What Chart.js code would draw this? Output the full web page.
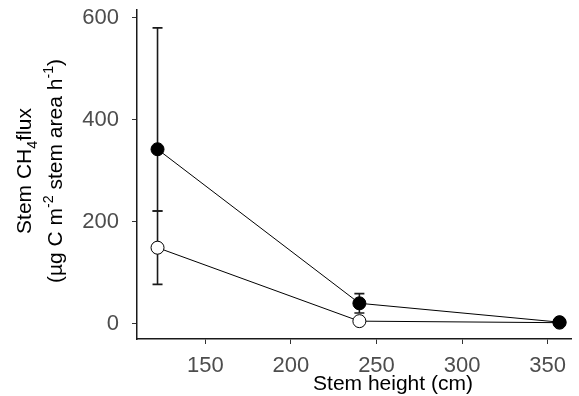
<!DOCTYPE html>
<html>
<head>
<meta charset="utf-8">
<script src="https://cdn.jsdelivr.net/npm/chart.js@4"></script>
<style>
  html, body { margin: 0; padding: 0; background: #fff; }
  #wrap { width: 579px; height: 396px; position: relative; }
</style>
</head>
<body>
<div id="wrap"><canvas id="grafico-flujo"></canvas></div>
<script>
// Datos
var alturas = [122, 240, 357];
var flujoLleno = [342, 40, 3];
var errorLlenoSup = [238, 19, 3];
var errorLlenoInf = [121, 19, 3];
var flujoVacio = [149, 5, 2];
var errorVacio = [72, 3, 1];
var ticksX = [150, 200, 250, 300, 350];
var ticksY = [0, 200, 400, 600];

var fuente = "'Liberation Sans', Arial, sans-serif";

function puntos(valores) {
  return alturas.map(function (x, i) { return { x: x, y: valores[i] }; });
}

// Barras de error dibujadas con las escalas del grafico
var barrasError = {
  id: "barrasError",
  beforeDatasetsDraw: function (chart) {
    var ctx = chart.ctx;
    var sx = chart.scales.x, sy = chart.scales.y;
    var series = [
      [flujoLleno, errorLlenoSup, errorLlenoInf],
      [flujoVacio, errorVacio, errorVacio],
    ];
    ctx.save();
    ctx.strokeStyle = "#1a1a1a";
    ctx.lineWidth = 1.6;
    series.forEach(function (s) {
      alturas.forEach(function (x, i) {
        var px = sx.getPixelForValue(x);
        var top = sy.getPixelForValue(s[0][i] + s[1][i]);
        var bot = sy.getPixelForValue(s[0][i] - s[2][i]);
        ctx.beginPath();
        ctx.moveTo(px, top); ctx.lineTo(px, bot);
        ctx.moveTo(px - 5, top); ctx.lineTo(px + 5, top);
        ctx.moveTo(px - 5, bot); ctx.lineTo(px + 5, bot);
        ctx.stroke();
      });
    });
    ctx.restore();
  }
};

// Texto con subindices y superindices, centrado en cx
function textoPartes(ctx, partes, cx, cy, size) {
  var total = 0;
  partes.forEach(function (p) {
    ctx.font = (p.s ? size * 0.68 : size) + "px " + fuente;
    p.w = ctx.measureText(p.t).width;
    total += p.w;
  });
  var x = cx - total / 2;
  partes.forEach(function (p) {
    ctx.font = (p.s ? size * 0.68 : size) + "px " + fuente;
    var dy = p.s === "sub" ? size * 0.3 : (p.s === "sup" ? -size * 0.45 : 0);
    ctx.fillText(p.t, x, cy + dy);
    x += p.w;
  });
}

var titulos = {
  id: "titulos",
  afterDraw: function (chart) {
    var ctx = chart.ctx;
    ctx.save();
    ctx.fillStyle = "#000";
    ctx.textBaseline = "alphabetic";
    ctx.textAlign = "left";
    textoPartes(ctx, [{ t: "Stem height (cm)" }], 393, 390, 21);
    ctx.translate(0, 171);
    ctx.rotate(-Math.PI / 2);
    textoPartes(ctx, [{ t: "Stem CH" }, { t: "4", s: "sub" }, { t: "flux" }], 0, 31, 21);
    textoPartes(ctx, [{ t: "(\u00b5g C m" }, { t: "-2", s: "sup" }, { t: " stem area h" }, { t: "-1", s: "sup" }, { t: ")" }], 0, 62, 21);
    ctx.restore();
  }
};

var ctx = document.getElementById("grafico-flujo").getContext("2d");
var miGrafico = new Chart(ctx, {
  type: "scatter",
  data: {
    datasets: [
      {
        data: puntos(flujoLleno),
        showLine: true,
        borderColor: "#000",
        borderWidth: 1,
        pointRadius: 6.5,
        pointBackgroundColor: "#000",
        pointBorderColor: "#000",
        pointBorderWidth: 1,
      },
      {
        data: puntos(flujoVacio),
        showLine: true,
        borderColor: "#000",
        borderWidth: 1,
        pointRadius: 6.5,
        pointBackgroundColor: "#fff",
        pointBorderColor: "#000",
        pointBorderWidth: 1,
      },
    ],
  },
  options: {
    responsive: true,
    maintainAspectRatio: false,
    animation: false,
    layout: { padding: { top: 10, right: 0, left: 0, bottom: 0 } },
    plugins: { legend: { display: false }, tooltip: { enabled: false } },
    scales: {
      x: {
        type: "linear",
        min: 110,
        max: 364,
        afterFit: function (s) { s.height = 57; },
        afterBuildTicks: function (s) { s.ticks = ticksX.map(function (v) { return { value: v }; }); },
        grid: { drawOnChartArea: false, color: "#333", tickLength: 5, tickWidth: 1 },
        border: { color: "#1a1a1a", width: 1.5 },
        ticks: { color: "#4D4D4D", font: { family: fuente, size: 22, lineHeight: 1 }, padding: 11, maxRotation: 0 },
      },
      y: {
        min: -30,
        max: 615,
        afterFit: function (s) { s.width = 137; s.paddingTop = 0; s.paddingBottom = 0; },
        afterBuildTicks: function (s) { s.ticks = ticksY.map(function (v) { return { value: v }; }); },
        grid: { drawOnChartArea: false, color: "#333", tickLength: 5, tickWidth: 1 },
        border: { color: "#1a1a1a", width: 1.5 },
        ticks: { color: "#4D4D4D", font: { family: fuente, size: 22 }, padding: 13 },
      },
    },
  },
  plugins: [barrasError, titulos],
});
</script>
</body>
</html>
